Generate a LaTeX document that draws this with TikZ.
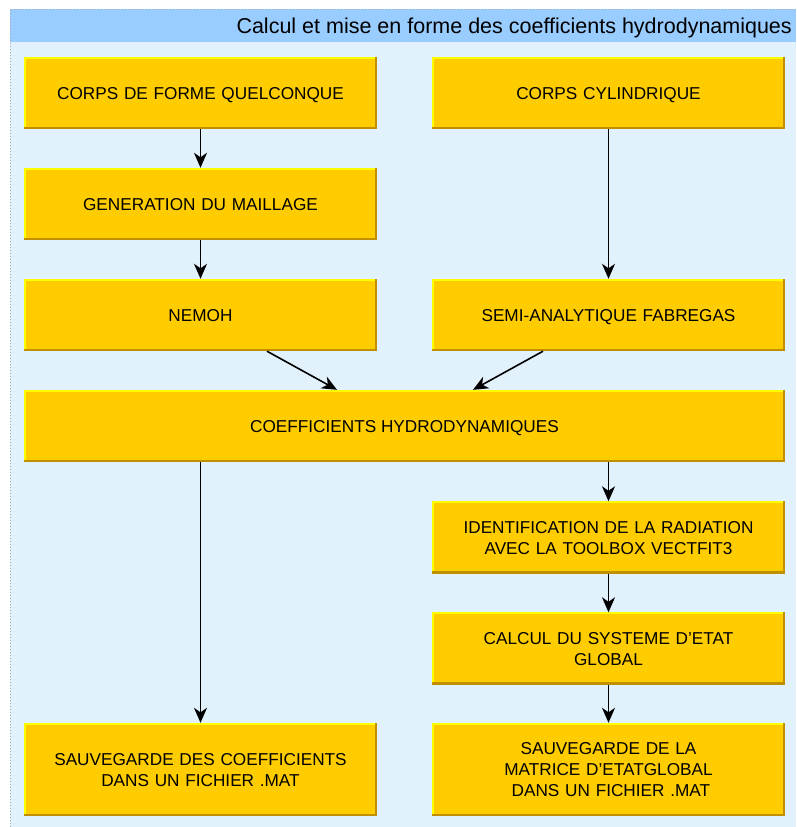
\documentclass[tikz,border=0pt]{standalone}
\usepackage{fontspec}
\setmainfont{Liberation Sans}
\usetikzlibrary{arrows.meta,calc}
\definecolor{titlebg}{HTML}{99CCFF}
\definecolor{bodybg}{HTML}{E1F2FD}
\definecolor{boxfill}{HTML}{FFCC00}
\definecolor{boxlight}{HTML}{FFFF00}
\definecolor{boxdark}{HTML}{C09000}
\definecolor{framegray}{HTML}{A0A8B0}
\tikzset{
  stepbox/.style={fill=boxfill, draw=none, minimum height=72pt, inner sep=0pt, align=center,
    font=\fontsize{17.2}{21}\selectfont, text height=12.3pt, text depth=0pt},
  twolines/.style={text depth=21pt},
  threelines/.style={text depth=42pt},
  narrowbox/.style={stepbox, minimum width=353pt, text width=340pt},
  widebox/.style={stepbox, minimum width=761pt},
  flow/.style={-{Stealth[length=15pt,width=13pt,inset=4.5pt]}, line width=1.6pt, black}
}
\newcommand{\bevelbox}[1]{%
  \draw[boxlight, line width=2pt] ($(#1.south west)+(1,0)$) -- ($(#1.north west)+(1,1)$) -- ($(#1.north east)+(0,1)$);
  \draw[boxdark, line width=2.5pt] ($(#1.north east)+(-1.2,0)$) -- ($(#1.south east)+(-1.2,-1.2)$) -- ($(#1.south west)+(0,-1.2)$);
}
\begin{document}
\begin{tikzpicture}[x=1pt,y=-1pt]
\useasboundingbox (0,0) rectangle (796,827);
\fill[bodybg] (10,9) rectangle (796,827);
\fill[titlebg] (10,9) rectangle (796,41.5);
\draw[framegray, dotted, line width=1pt] (10,827) -- (10,9) -- (796,9);
\node[anchor=base east, font=\fontsize{21.5}{25}\selectfont, inner sep=0pt] (title) at (792,33.3) {Calcul et mise en forme des coefficients hydrodynamiques};

\node[narrowbox] (corps) at (200.5,93) {CORPS DE FORME QUELCONQUE};
\node[narrowbox] (cyl) at (608.5,93) {CORPS CYLINDRIQUE};
\node[narrowbox] (gen) at (200.5,204) {GENERATION DU MAILLAGE};
\node[narrowbox] (nemoh) at (200.5,315) {NEMOH};
\node[narrowbox] (semi) at (608.5,315) {SEMI-ANALYTIQUE FABREGAS};
\node[widebox] (coef) at (404.5,426) {COEFFICIENTS HYDRODYNAMIQUES};
\node[narrowbox, twolines] (ident) at (608.5,537.5) {IDENTIFICATION DE LA RADIATION\\AVEC LA TOOLBOX VECTFIT3};
\node[narrowbox, twolines] (calc) at (608.5,648.5) {CALCUL DU SYSTEME D'ETAT\\GLOBAL};
\node[narrowbox, twolines, minimum height=93pt] (save1) at (200.5,769.5) {SAUVEGARDE DES COEFFICIENTS\\DANS UN FICHIER .MAT};
\node[narrowbox, threelines, minimum height=93pt] (save2) at (608.5,769.5) {SAUVEGARDE DE LA\\MATRICE D'ETATGLOBAL\\\hspace*{0.278em}DANS UN FICHIER .MAT};

\foreach \n in {corps,cyl,gen,nemoh,semi,coef,ident,calc,save1,save2} {\bevelbox{\n}}

\coordinate (nemohout) at ($(nemoh.south)+(66.5,0)$);
\coordinate (coefinL) at ($(coef.north)+(-67.5,0)$);
\coordinate (semiout) at ($(semi.south)+(-65.5,0)$);
\coordinate (coefinR) at ($(coef.north)+(68.5,0)$);
\coordinate (coefoutL) at (coef.south -| save1.north);
\coordinate (coefoutR) at (coef.south -| ident.north);

\draw[flow] (corps.south) -- (gen.north);
\draw[flow] (gen.south) -- (nemoh.north);
\draw[flow] (cyl.south) -- (semi.north);
\draw[flow] (nemohout) -- (coefinL);
\draw[flow] (semiout) -- (coefinR);
\draw[flow] (coefoutL) -- (save1.north);
\draw[flow] (coefoutR) -- (ident.north);
\draw[flow] (ident.south) -- (calc.north);
\draw[flow] (calc.south) -- (save2.north);
\end{tikzpicture}
\end{document}
